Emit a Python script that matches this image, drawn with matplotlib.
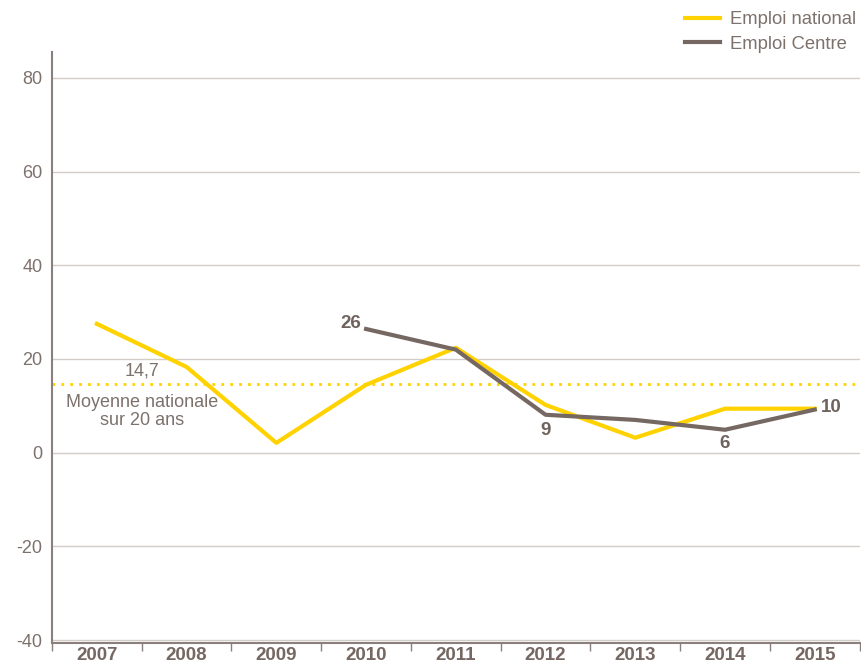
import numpy as np
import matplotlib
matplotlib.use('Agg')
import matplotlib.pyplot as plt
from matplotlib.ticker import FixedLocator

years = ['2007', '2008', '2009', '2010', '2011', '2012', '2013', '2014', '2015']
national = [27.5, 18.3, 2.1, 14.5, 22.4, 10.2, 3.2, 9.4, 9.4]
centre_years = [3, 4, 5, 6, 7, 8]
centre = [26.4, 22.0, 8.1, 7.0, 4.9, 9.2]
moyenne = 14.7

yellow = '#FFD200'
brown = '#756862'
txt = '#7d716c'
grid = '#d3cdca'

plt.rcParams['font.family'] = ['Liberation Sans', 'DejaVu Sans']
plt.rcParams['axes.unicode_minus'] = False

fig = plt.figure(figsize=(8.61, 6.67), dpi=100)
ax = fig.add_axes([0.0604, 0.036, 0.938, 0.886])

x = np.arange(len(years))
ax.plot(x, national, color=yellow, lw=3, label='Emploi national', zorder=3)
ax.plot(centre_years, centre, color=brown, lw=3, label='Emploi Centre', zorder=4)
ax.axhline(moyenne, color=yellow, lw=2, ls=(0, (1, 2.2)), zorder=2)

ax.set_xlim(-0.5, 8.5)
ax.set_ylim(-40.6, 85.5)
ax.set_yticks([-40, -20, 0, 20, 40, 60, 80])
ax.yaxis.grid(True, color=grid, lw=1)
ax.set_axisbelow(True)

ax.set_xticks(x)
ax.set_xticklabels(years, fontweight='bold', fontsize=13.5, color=brown,
                   family=['Liberation Sans Narrow', 'Liberation Sans'])
ax.xaxis.set_minor_locator(FixedLocator(np.arange(-0.5, 9, 1)))
ax.tick_params(axis='x', which='major', length=0, pad=3)
ax.tick_params(axis='x', which='minor', length=6, width=1, color='#8a7f7a', direction='out')
ax.tick_params(axis='y', length=0, labelsize=13, labelcolor=txt, pad=7)

for s in ['top', 'right']:
    ax.spines[s].set_visible(False)
for s in ['left', 'bottom']:
    ax.spines[s].set_color('#8a7f7a')
    ax.spines[s].set_linewidth(1.5)

# annotations
ax.text(0.5, 15.6, '14,7', ha='center', va='bottom', fontsize=13, color=txt)
ax.text(0.5, 8.8, 'Moyenne nationale\nsur 20 ans', ha='center', va='center',
        fontsize=13, color=txt, linespacing=1.15)

lab_col = '#6f635e'
ax.text(2.95, 27.6, '26', ha='right', va='center', fontsize=13.5, fontweight='bold', color=lab_col)
ax.text(5.0, 4.8, '9', ha='center', va='center', fontsize=13.5, fontweight='bold', color=lab_col)
ax.text(7.0, 1.9, '6', ha='center', va='center', fontsize=13.5, fontweight='bold', color=lab_col)
ax.text(8.07, 9.6, '10', ha='left', va='center', fontsize=13.5, fontweight='bold', color=lab_col)

leg = ax.legend(loc='upper right', bbox_to_anchor=(1.012, 1.005), bbox_transform=fig.transFigure,
                frameon=False, handlelength=1.9, handletextpad=0.55, labelspacing=0.4,
                fontsize=13.3, borderpad=0.3)
for t in leg.get_texts():
    t.set_color(txt)

fig.savefig('out.png', dpi=100)
